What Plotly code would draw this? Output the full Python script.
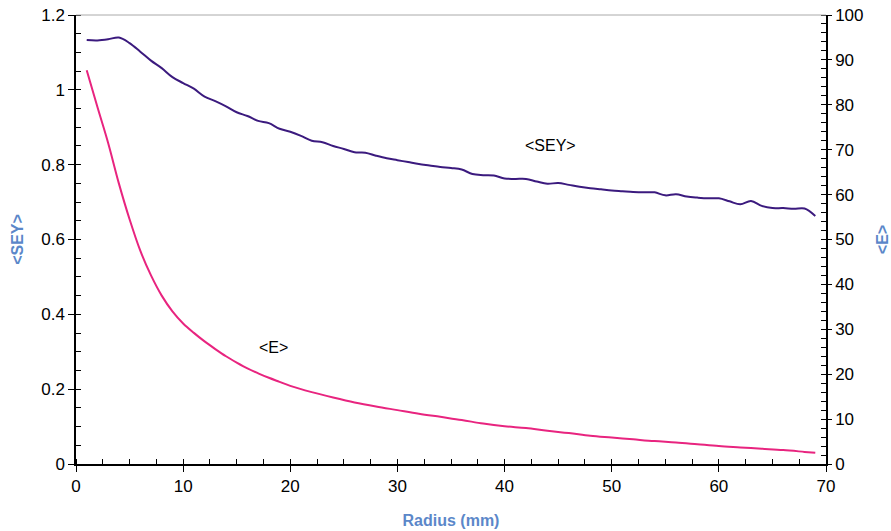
import plotly.graph_objects as go

# <SEY> vs radius (left axis)
sey_r = list(range(1, 70))
sey_v = [1.133, 1.132, 1.135, 1.140, 1.125, 1.102, 1.078, 1.058, 1.034, 1.018,
         1.003, 0.982, 0.970, 0.956, 0.940, 0.930, 0.917, 0.911, 0.896, 0.888,
         0.877, 0.864, 0.860, 0.850, 0.842, 0.833, 0.832, 0.824, 0.817, 0.812,
         0.807, 0.802, 0.798, 0.794, 0.791, 0.787, 0.775, 0.772, 0.771, 0.763,
         0.762, 0.762, 0.755, 0.749, 0.751, 0.746, 0.741, 0.737, 0.734, 0.731,
         0.729, 0.727, 0.726, 0.726, 0.718, 0.721, 0.715, 0.712, 0.710, 0.710,
         0.702, 0.694, 0.703, 0.690, 0.684, 0.684, 0.682, 0.683, 0.663]

# <E> vs radius (right axis)
e_r = [1, 2, 3, 4, 5, 6, 7, 8, 9, 10, 11, 12, 13, 14, 15, 16, 17, 18, 19, 20,
       22, 24, 26, 28, 30, 32, 34, 36, 38, 40, 42, 44, 46, 48, 50, 52, 54, 56,
       58, 60, 62, 64, 66, 68, 69]
e_v = [87.7, 79.5, 71.5, 62.5, 54.5, 47.5, 42.0, 37.5, 34.0, 31.3, 29.2, 27.3,
       25.6, 24.0, 22.6, 21.3, 20.2, 19.2, 18.3, 17.4, 16.0, 14.8, 13.7, 12.8,
       12.0, 11.2, 10.5, 9.8, 9.0, 8.4, 8.0, 7.4, 6.9, 6.3, 5.9, 5.5, 5.1, 4.8,
       4.4, 4.0, 3.7, 3.4, 3.1, 2.7, 2.5]

FONT = "Liberation Sans, Arial, Helvetica, sans-serif"
TITLE_C = "#5b87c9"

fig = go.Figure()
fig.add_trace(go.Scatter(x=sey_r, y=sey_v, mode="lines", line=dict(color="#3b1a7e", width=2),
                         line_shape="spline", showlegend=False))
fig.add_trace(go.Scatter(x=e_r, y=e_v, mode="lines", line=dict(color="#e8247f", width=2),
                         line_shape="spline", yaxis="y2", showlegend=False))

fig.add_annotation(x=44.3, y=0.85, text="&lt;SEY&gt;", showarrow=False,
                   font=dict(family=FONT, size=16, color="black"))
fig.add_annotation(x=18.4, y=0.312, text="&lt;E&gt;", showarrow=False,
                   font=dict(family=FONT, size=16, color="black"))

fig.add_shape(type="line", xref="paper", yref="paper", x0=0, x1=1, y0=1, y1=1,
              line=dict(color="#aaaaaa", width=1))

fig.update_layout(
    width=891, height=531,
    margin=dict(l=76, r=65, t=15, b=67),
    plot_bgcolor="white", paper_bgcolor="white",
    font=dict(family=FONT, size=17, color="black"),
    xaxis=dict(range=[0, 70], dtick=10, tick0=0, showgrid=False, zeroline=False,
               automargin=False,
               showline=True, linecolor="black", linewidth=1.5,
               ticks="outside", ticklen=6, tickcolor="black",
               minor=dict(dtick=2.5, ticks="inside", ticklen=5, tickcolor="black"),
               title=dict(text="<b>Radius (mm)</b>", font=dict(color=TITLE_C, size=16), standoff=20)),
    yaxis=dict(range=[0, 1.2], dtick=0.2, tick0=0, showgrid=False, zeroline=False,
               automargin=False,
               showline=True, linecolor="black", linewidth=1.5,
               ticks="outside", ticklen=6, tickcolor="black",
               minor=dict(dtick=0.05, ticks="inside", ticklen=5, tickcolor="black"),
               title=dict(text="<b>&lt;SEY&gt;</b>", font=dict(color=TITLE_C, size=16), standoff=14)),
    yaxis2=dict(range=[0, 100], dtick=10, tick0=0, overlaying="y", side="right",
                automargin=False,
                showgrid=False, zeroline=False,
                showline=True, linecolor="black", linewidth=1.5,
                ticks="outside", ticklen=4, tickcolor="black",
                minor=dict(dtick=2, ticks="inside", ticklen=5, tickcolor="black"),
                title=dict(text="<b>&lt;E&gt;</b>", font=dict(color=TITLE_C, size=16), standoff=14)),
)

fig.write_html("out.html")
